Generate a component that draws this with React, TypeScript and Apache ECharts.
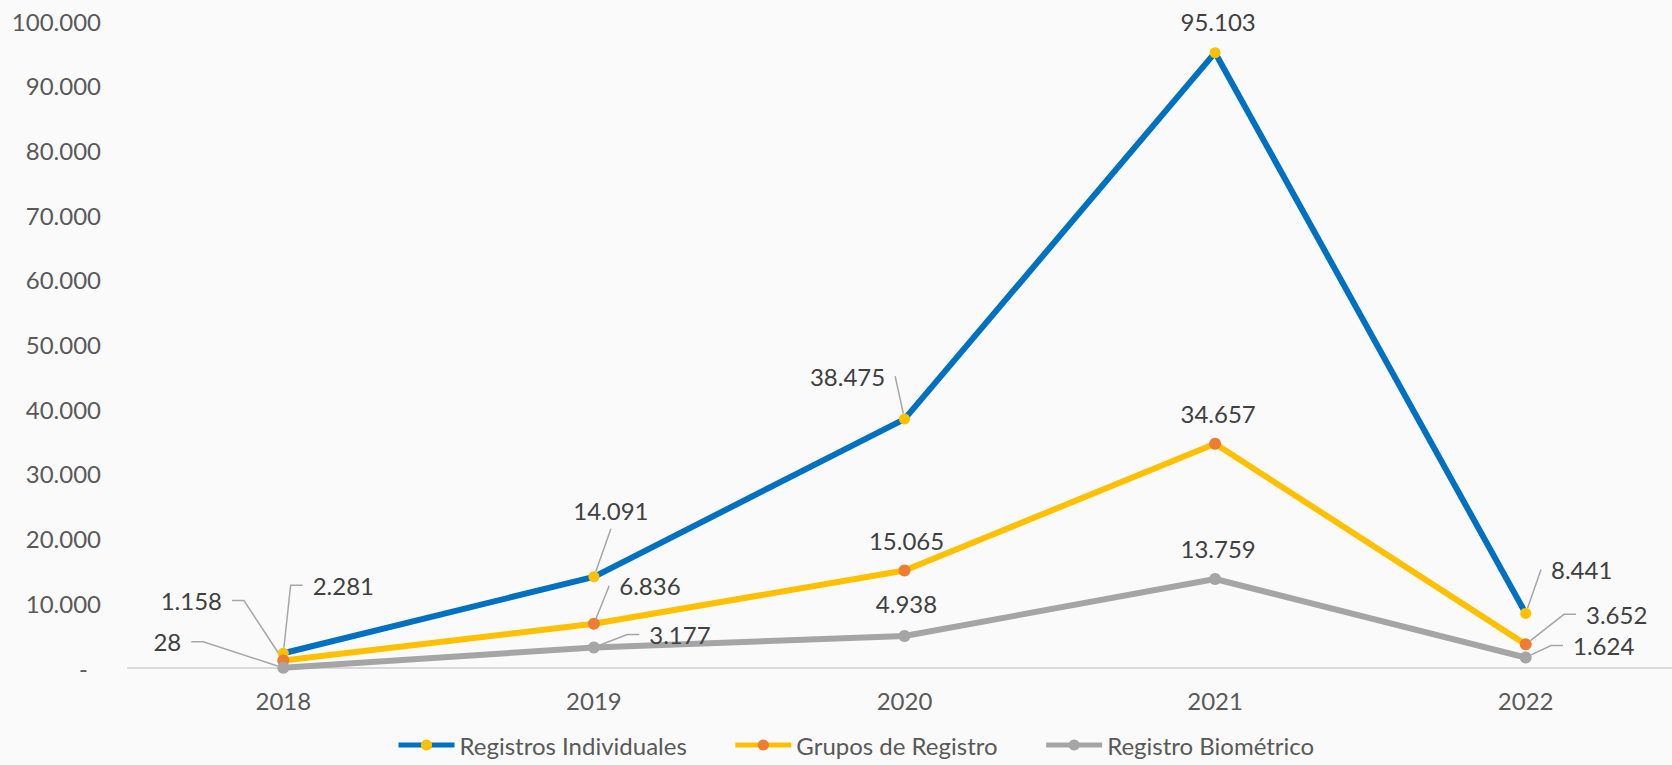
import React, { useEffect, useRef } from 'react';
import * as echarts from 'echarts';

const years = ['2018', '2019', '2020', '2021', '2022'];
const individuales = [2281, 14091, 38475, 95103, 8441];
const grupos = [1158, 6836, 15065, 34657, 3652];
const biometrico = [28, 3177, 4938, 13759, 1624];

const yMin = 0;
const yMax = 100000;
const yInterval = 10000;

// label placement per point: [dx, dy, leader] ; leader 0 = none, 1 = straight, 2 = elbow
const individualesLabels = [[60, -68, 2], [17, -66, 1], [-57, -43, 1], [3, -31, 0], [56, -44, 1]];
const gruposLabels = [[-92, -60, 2], [56, -38, 1], [2, -30, 0], [3, -30, 0], [91, -30, 2]];
const biometricoLabels = [[-116, -26, 2], [86, -13, 2], [2, -33, 0], [3, -30, 0], [78, -12, 2]];

const fmt = (v: number) => String(v).replace(/\B(?=(\d{3})+(?!\d))/g, '.');

const FONT = 'Lato';

function makeSeries(
  name: string,
  values: number[],
  placements: number[][],
  lineColor: string,
  markerColor: string,
  markerSize: number
) {
  return {
    name,
    type: 'line',
    data: values.map((v, i) => ({
      value: v,
      labelLine: {
        show: placements[i][2] > 0,
        length2: placements[i][2] === 2 ? 12 : 0,
      },
    })),
    symbol: 'circle',
    symbolSize: markerSize,
    showAllSymbol: true,
    lineStyle: { color: lineColor, width: 6 },
    itemStyle: { color: markerColor },
    label: {
      show: true,
      position: 'inside',
      formatter: (p: any) => fmt(p.value),
      color: '#404040',
      fontSize: 24,
      fontFamily: FONT,
      padding: [6, 10],
      backgroundColor: 'rgba(0,0,0,0)',
    },
    labelLine: {
      show: true,
      lineStyle: { color: '#A6A6A6', width: 1.5 },
    },
    labelLayout: (params: any) => {
      const pl = placements[params.dataIndex];
      return { dx: pl[0], dy: pl[1] };
    },
    emphasis: { disabled: true },
  };
}

export default function App() {
  const ref = useRef<HTMLDivElement>(null);
  useEffect(() => {
    if (!ref.current) return;
    const chart = echarts.init(ref.current, undefined, { renderer: 'svg' });
    chart.setOption({
      animation: false,
      backgroundColor: '#FAFAFA',
      grid: { left: 128, top: 21, width: 1553, height: 647 },
      legend: {
        left: 396,
        top: 733,
        padding: 0,
        itemWidth: 56,
        itemHeight: 14,
        itemGap: 46,
        lineStyle: { width: 5 },
        textStyle: { color: '#595959', fontSize: 24, fontFamily: FONT },
        data: ['Registros Individuales', 'Grupos de Registro', 'Registro Biométrico'],
      },
      xAxis: {
        type: 'category',
        data: years,
        boundaryGap: true,
        axisLine: { lineStyle: { color: '#D9D9D9', width: 2 } },
        axisTick: { show: false },
        axisLabel: { color: '#595959', fontSize: 24, fontFamily: FONT, margin: 20 },
      },
      yAxis: {
        type: 'value',
        min: yMin,
        max: yMax,
        interval: yInterval,
        axisLine: { show: false },
        axisTick: { show: false },
        splitLine: { show: false },
        axisLabel: {
          color: '#595959',
          fontSize: 24,
          fontFamily: FONT,
          margin: 27,
          formatter: (v: number) => (v === 0 ? '{z|-}' : fmt(v)),
          rich: {
            z: { color: '#595959', fontSize: 24, fontFamily: FONT, padding: [0, 13, 0, 0] },
          },
        },
      },
      series: [
        makeSeries('Registros Individuales', individuales, individualesLabels, '#0070C0', '#FFC000', 11),
        makeSeries('Grupos de Registro', grupos, gruposLabels, '#FFC000', '#ED7D31', 12),
        makeSeries('Registro Biométrico', biometrico, biometricoLabels, '#A5A5A5', '#A5A5A5', 12),
      ],
    });
    return () => chart.dispose();
  }, []);
  return (
    <div
      style={{
        position: 'absolute',
        left: 0,
        top: 0,
        width: 1672,
        height: 765,
        overflow: 'hidden',
        background: '#FAFAFA',
      }}
    >
      <div ref={ref} style={{ width: 1700, height: 765 }} />
    </div>
  );
}
